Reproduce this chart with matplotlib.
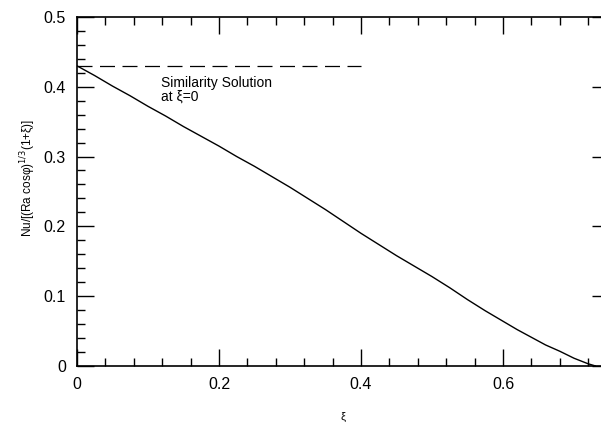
import numpy as np
import matplotlib.pyplot as plt
from matplotlib.ticker import MultipleLocator

plt.rcParams['font.family'] = ['Liberation Sans', 'DejaVu Sans']

# Curve
xi = [0.0, 0.025, 0.05, 0.075, 0.10, 0.125, 0.15, 0.175, 0.20, 0.225,
      0.25, 0.275, 0.30, 0.325, 0.35, 0.375, 0.40, 0.425, 0.45, 0.475,
      0.50, 0.525, 0.55, 0.575, 0.60, 0.62, 0.64, 0.66, 0.68, 0.69,
      0.70, 0.71, 0.72, 0.73]
nu = [0.430, 0.416, 0.401, 0.387, 0.372, 0.358, 0.343, 0.329, 0.315, 0.300,
      0.286, 0.271, 0.256, 0.240, 0.224, 0.207, 0.190, 0.174, 0.158, 0.143,
      0.128, 0.112, 0.095, 0.079, 0.064, 0.052, 0.041, 0.030, 0.021, 0.016,
      0.011, 0.007, 0.003, 0.0]

# Similarity solution at xi = 0
sim_x = [0.0, 0.4]
sim_y = [0.43, 0.43]

fig = plt.figure(figsize=(6.01, 4.24), dpi=100)
# right spine sits just past the picture edge, as in the scan
ax = fig.add_axes([0.128, 0.137, 0.885, 0.823])

ax.plot(xi, nu, color='black', lw=1.0)
ax.plot(sim_x, sim_y, color='black', lw=0.9, dashes=(12, 6))

ax.text(0.118, 0.415, 'Similarity Solution\nat \u03be=0', fontsize=10,
        va='top', ha='left', linespacing=0.95)

ax.set_xlim(0, 0.749)
ax.set_ylim(0, 0.5)
ax.xaxis.set_minor_locator(MultipleLocator(0.04))
ax.yaxis.set_minor_locator(MultipleLocator(0.02))
ax.set_xticks([0, 0.2, 0.4, 0.6])
ax.set_xticklabels(['0', '0.2', '0.4', '0.6'])
ax.set_yticks([0, 0.1, 0.2, 0.3, 0.4, 0.5])
ax.set_yticklabels(['0', '0.1', '0.2', '0.3', '0.4', '0.5'])

ax.tick_params(which='both', direction='in', top=True, right=True,
               labelsize=11.5, width=1)
ax.tick_params(which='major', length=12, pad=8)
ax.tick_params(which='minor', length=6)
for s in ax.spines.values():
    s.set_linewidth(1.2)

ax.set_ylabel('Nu/[(Ra cos\u03c6)$^{1/3}$(1+\u03be)]', fontsize=8.5)
ax.yaxis.set_label_coords(-0.073, 0.539)
ax.set_xlabel('\u03be', fontsize=8, labelpad=14)

fig.savefig('out.png', dpi=100)
